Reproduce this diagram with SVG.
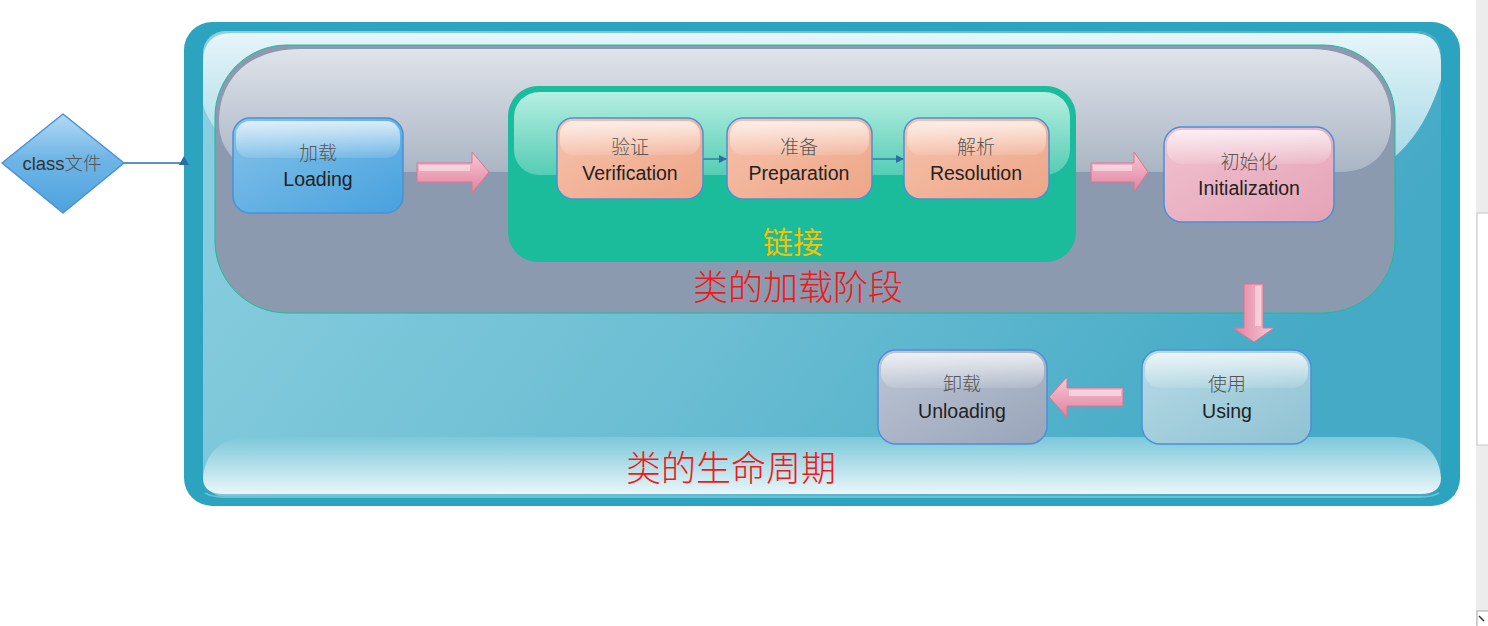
<svg xmlns="http://www.w3.org/2000/svg" width="1488" height="626" viewBox="0 0 1488 626">
<defs>
<linearGradient id="panel" x1="0" y1="0" x2="1" y2="0.3"><stop offset="0" stop-color="#8dd0e0"/><stop offset="0.55" stop-color="#6cbed3"/><stop offset="1" stop-color="#45aac6"/></linearGradient>
<linearGradient id="topgloss" x1="0" y1="0" x2="0" y2="1"><stop offset="0" stop-color="#e6f5f9"/><stop offset="1" stop-color="#98d3e2"/></linearGradient>
<linearGradient id="botgloss" x1="0" y1="0" x2="0" y2="1"><stop offset="0" stop-color="#7cc8da"/><stop offset="1" stop-color="#e9f6f9"/></linearGradient>
<linearGradient id="graygloss" x1="0" y1="0" x2="0" y2="1"><stop offset="0" stop-color="#dfe3ea"/><stop offset="1" stop-color="#aab5c4"/></linearGradient>
<linearGradient id="greengloss" x1="0" y1="0" x2="0" y2="1"><stop offset="0" stop-color="#b6eee2"/><stop offset="1" stop-color="#55cdb4"/></linearGradient>
<linearGradient id="gl" x1="0" y1="0" x2="0" y2="1"><stop offset="0" stop-color="#ffffff" stop-opacity="0.75"/><stop offset="1" stop-color="#ffffff" stop-opacity="0.12"/></linearGradient>
<linearGradient id="blue" x1="0" y1="0" x2="1" y2="1"><stop offset="0" stop-color="#86c3ea"/><stop offset="1" stop-color="#47a1de"/></linearGradient>
<linearGradient id="peach" x1="0" y1="0" x2="1" y2="1"><stop offset="0" stop-color="#f6c3ad"/><stop offset="1" stop-color="#eea586"/></linearGradient>
<linearGradient id="pink" x1="0" y1="0" x2="1" y2="1"><stop offset="0" stop-color="#f1c2d0"/><stop offset="1" stop-color="#e4a3b6"/></linearGradient>
<linearGradient id="lblue" x1="0" y1="0" x2="1" y2="1"><stop offset="0" stop-color="#b7dae5"/><stop offset="1" stop-color="#8fc2d3"/></linearGradient>
<linearGradient id="lgray" x1="0" y1="0" x2="1" y2="1"><stop offset="0" stop-color="#bec6d4"/><stop offset="1" stop-color="#98a4b9"/></linearGradient>
<linearGradient id="dia" x1="0" y1="0" x2="0" y2="1"><stop offset="0" stop-color="#b3daf4"/><stop offset="0.45" stop-color="#6fb5e6"/><stop offset="1" stop-color="#4da2de"/></linearGradient>
<linearGradient id="arr" x1="0" y1="0" x2="0" y2="1"><stop offset="0" stop-color="#f6c9d6"/><stop offset="1" stop-color="#e2819e"/></linearGradient>
<linearGradient id="arrv" x1="0" y1="0" x2="1" y2="0"><stop offset="0" stop-color="#e2819e"/><stop offset="1" stop-color="#f6c9d6"/></linearGradient>
<marker id="ah" viewBox="0 0 10 10" refX="10" refY="5" markerWidth="8" markerHeight="8" markerUnits="userSpaceOnUse" orient="auto"><path d="M0,0 L10,5 L0,10 Z" fill="#2b6ea6"/></marker>
</defs>
<style>
.zh{font-family:"Noto Sans CJK SC",sans-serif;font-size:19px;font-weight:300;fill:#555;text-anchor:middle}
.en{font-family:"Liberation Sans","Noto Sans CJK SC",sans-serif;font-size:19.5px;fill:#222;text-anchor:middle}
.box{stroke:#4a90d9;stroke-width:1.5}
.gls{fill:url(#gl)}
.red{font-family:"Noto Sans CJK SC",sans-serif;font-size:35px;font-weight:300;fill:#f01818;text-anchor:middle}
.parrow{fill:url(#arr);stroke:#e0728f;stroke-width:1}
.conn{stroke:#2b6ea6;stroke-width:1.3;fill:none}
</style>
<rect width="1488" height="626" fill="#ffffff"/>
<g id="scrollbar">
<rect x="1476" y="0" width="12" height="626" fill="#ececec"/>
<rect x="1477" y="213" width="12" height="232" fill="#ffffff" stroke="#c6c6c6"/>
<rect x="1477" y="611" width="12" height="16" fill="#ffffff" stroke="#aaaaaa"/>
<path d="M1479,616 L1484,621" stroke="#333" stroke-width="1.5"/>
</g>
<g id="lifecycle">
<rect x="184" y="22" width="1276" height="484" rx="28" fill="#2ca3bf"/>
<rect x="203" y="31" width="1238" height="466" rx="22" fill="url(#panel)"/>
<path d="M203,62 Q203,33 232,33 L1412,33 Q1441,33 1441,62 L1441,80 C1425,130 1400,165 1340,190 L300,190 C250,170 215,140 203,105 Z" fill="url(#topgloss)"/>
<path d="M203,478 C205,452 222,437 252,437 L1392,437 C1422,437 1439,452 1441,478 Q1441,494 1420,494 L224,494 Q203,494 203,478 Z" fill="url(#botgloss)"/>
<path d="M205,493 Q212,497 224,497 L1420,497 Q1432,497 1439,493" fill="none" stroke="#6cbfd3" stroke-width="2"/>
<text class="red" x="731" y="481">类的生命周期</text>
</g>
<g id="loading-phase">
<rect x="215" y="45" width="1180" height="268" rx="72" fill="#8b9aaf" stroke="#1bbc9b" stroke-width="1"/>
<path d="M219,122 C219,76 252,49 300,49 L1310,49 C1358,49 1391,76 1391,122 C1391,152 1372,172 1340,172 L272,172 C240,172 219,152 219,122 Z" fill="url(#graygloss)"/>
<text class="red" x="798" y="300">类的加载阶段</text>
</g>
<g id="linking">
<rect x="508" y="86" width="568" height="176" rx="30" fill="#1abc9c"/>
<rect x="514" y="92" width="556" height="83" rx="25" fill="url(#greengloss)"/>
<text x="793" y="253" font-family="Noto Sans CJK SC, sans-serif" font-size="30" fill="#f4c200" text-anchor="middle">链接</text>
</g>
<g id="connectors">
<line class="conn" x1="124" y1="163" x2="184" y2="163"/>
<path d="M179,165 L184,156 L189,165 Z" fill="#2b6ea6"/>
<line class="conn" x1="703" y1="159" x2="727" y2="159" marker-end="url(#ah)"/>
<line class="conn" x1="872" y1="159" x2="904" y2="159" marker-end="url(#ah)"/>
<path class="parrow" d="M417,163 L472,163 L472,152 L489,172 L472,193 L472,182 L417,182 Z"/>
<path d="M419,165 L470,165 L470,171 L419,171 Z" fill="#ffffff" opacity="0.45"/>
<path class="parrow" d="M1091,163 L1134,163 L1134,152 L1148,172 L1134,192 L1134,182 L1091,182 Z"/>
<path d="M1093,165 L1132,165 L1132,171 L1093,171 Z" fill="#ffffff" opacity="0.45"/>
<path d="M1244,284 L1263,284 L1263,328 L1274,328 L1254,342 L1233,328 L1244,328 Z" fill="url(#arrv)" stroke="#e0728f" stroke-width="1"/>
<path d="M1255,286 L1261,286 L1261,326 L1255,326 Z" fill="#ffffff" opacity="0.4"/>
<path class="parrow" d="M1123,388 L1067,388 L1067,377 L1049,397 L1067,417 L1067,406 L1123,406 Z"/>
<path d="M1069,390 L1121,390 L1121,396 L1069,396 Z" fill="#ffffff" opacity="0.45"/>
</g>
<g id="class-file">
<path d="M63,114 L124,163 L63,213 L2,163 Z" fill="url(#dia)" stroke="#4a90d9" stroke-width="1.5" stroke-linejoin="round"/>
<text x="62" y="170" font-family="Liberation Sans, Noto Sans CJK SC, sans-serif" font-size="18.5" fill="#333" text-anchor="middle">class<tspan fill="#555" font-weight="300">文件</tspan></text>
</g>
<g id="node-loading">
<rect class="box" x="233" y="118" width="170" height="95" rx="17" fill="url(#blue)" stroke-width="2"/>
<rect class="gls" x="236" y="121" width="164" height="37" rx="14"/>
<text class="zh" x="318" y="160">加载</text>
<text class="en" x="318" y="186">Loading</text>
</g>
<g id="node-verification">
<rect class="box" x="557" y="118" width="146" height="81" rx="16" fill="url(#peach)"/>
<rect class="gls" x="560" y="121" width="140" height="34" rx="13"/>
<text class="zh" x="630" y="154">验证</text>
<text class="en" x="630" y="180">Verification</text>
</g>
<g id="node-preparation">
<rect class="box" x="727" y="118" width="145" height="81" rx="16" fill="url(#peach)"/>
<rect class="gls" x="730" y="121" width="139" height="34" rx="13"/>
<text class="zh" x="799" y="154">准备</text>
<text class="en" x="799" y="180">Preparation</text>
</g>
<g id="node-resolution">
<rect class="box" x="904" y="118" width="145" height="81" rx="16" fill="url(#peach)"/>
<rect class="gls" x="907" y="121" width="139" height="34" rx="13"/>
<text class="zh" x="976" y="154">解析</text>
<text class="en" x="976" y="180">Resolution</text>
</g>
<g id="node-initialization">
<rect class="box" x="1164" y="127" width="170" height="95" rx="18" fill="url(#pink)"/>
<rect class="gls" x="1167" y="130" width="164" height="34" rx="15"/>
<text class="zh" x="1249" y="169">初始化</text>
<text class="en" x="1249" y="195">Initialization</text>
</g>
<g id="node-using">
<rect class="box" x="1142" y="350" width="169" height="94" rx="18" fill="url(#lblue)"/>
<rect class="gls" x="1145" y="353" width="163" height="35" rx="15"/>
<text class="zh" x="1227" y="391">使用</text>
<text class="en" x="1227" y="418">Using</text>
</g>
<g id="node-unloading">
<rect class="box" x="878" y="350" width="169" height="94" rx="18" fill="url(#lgray)"/>
<rect class="gls" x="881" y="353" width="163" height="35" rx="15"/>
<text class="zh" x="962" y="391">卸载</text>
<text class="en" x="962" y="418">Unloading</text>
</g>
</svg>
